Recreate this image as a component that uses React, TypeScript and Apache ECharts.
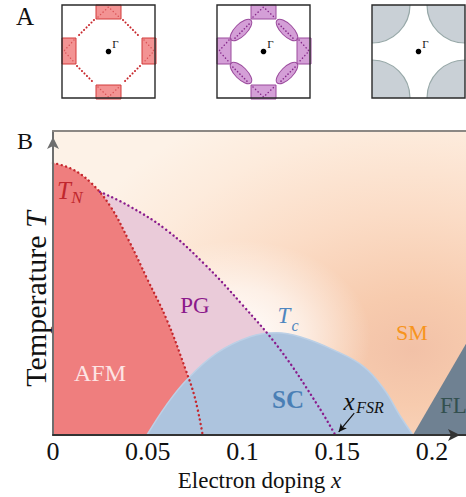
import React, { useEffect, useRef } from 'react';
import * as echarts from 'echarts';

// ---- data ----
const xTickLabels = [0, 0.05, 0.1, 0.15, 0.2];
const xMax = 0.218;

// Néel temperature T_N (AFM boundary)
const tnX = [0, 0.01, 0.02, 0.03, 0.04, 0.05, 0.06, 0.07, 0.075, 0.079];
const tnT = [0.895, 0.875, 0.83, 0.755, 0.64, 0.51, 0.38, 0.215, 0.12, 0];

// pseudogap line ending at x_FSR
const pgX = [0.0248, 0.04, 0.06, 0.08, 0.1, 0.12, 0.14, 0.149];
const pgT = [0.8, 0.754, 0.674, 0.562, 0.428, 0.28, 0.095, 0];

// superconducting dome T_c
const scX = [0.0496, 0.06, 0.0705, 0.0864, 0.104, 0.118, 0.1303, 0.148, 0.164, 0.175, 0.183, 0.19];
const scT = [0, 0.1, 0.181, 0.269, 0.323, 0.336, 0.323, 0.28, 0.225, 0.148, 0.065, 0];

// Fermi-liquid boundary
const flX = [0.19, 0.218];
const flT = [0, 0.3];

// strange-metal background extent
const bgX = [0, 0.218];
const bgT = [1, 1];

// x_FSR arrow (from label to point)
const fsrArrowX = [0.159, 0.1508];
const fsrArrowT = [0.072, 0.01];

const pts = (xs: number[], ys: number[]) => xs.map((x, i) => [x, ys[i]]);
const SERIF = '"Liberation Serif", "Times New Roman", serif';

function txt(x: number, y: number, text: string, size: number, fill: string, extra: any = {}) {
  return {
    type: 'text',
    x,
    y,
    z: 100,
    style: {
      text,
      fill,
      fontSize: size,
      fontFamily: SERIF,
      align: 'center',
      verticalAlign: 'middle',
      ...extra,
    },
  };
}

function dotted(points: number[][], color: string, w = 2) {
  return {
    type: 'polyline',
    z: 60,
    shape: { points },
    style: { stroke: color, lineWidth: w, lineDash: [0.1, 3.4], lineCap: 'round', fill: null },
  };
}

function rectPatch(x: number, y: number, w: number, h: number, fill: string, stroke: string) {
  return { type: 'rect', z: 55, shape: { x, y, width: w, height: h }, style: { fill, stroke, lineWidth: 1 } };
}

function squareFrame(ox: number) {
  return { type: 'rect', z: 50, shape: { x: ox, y: 5, width: 93, height: 93 }, style: { fill: '#fff', stroke: 'none' } };
}
function squareBorder(ox: number) {
  return { type: 'rect', z: 70, shape: { x: ox, y: 5, width: 93, height: 93 }, style: { fill: null, stroke: '#2a2a2a', lineWidth: 1.4 } };
}
function gamma(ox: number) {
  const cx = ox + 46.5;
  return [
    { type: 'circle', z: 80, shape: { cx, cy: 51.5, r: 2.8 }, style: { fill: '#000' } },
    txt(cx + 7, 43.5, 'Γ', 11, '#111'),
  ];
}

function buildInsets() {
  const els: any[] = [];
  // ---- inset 1 (AFM) ----
  const o1 = 62;
  const red = 'rgba(238,105,105,0.72)';
  const redS = '#d23a3a';
  const redDot = '#c8282d';
  els.push(squareFrame(o1));
  els.push(rectPatch(o1 + 34, 5, 25, 14, red, redS));
  els.push(rectPatch(o1 + 34, 85, 25, 14, red, redS));
  els.push(rectPatch(o1, 38, 14, 26, red, redS));
  els.push(rectPatch(o1 + 80, 38, 14, 26, red, redS));
  els.push(dotted([[o1 + 32, 20], [o1 + 15, 37]], redDot));
  els.push(dotted([[o1 + 61, 20], [o1 + 78, 37]], redDot));
  els.push(dotted([[o1 + 15, 66], [o1 + 32, 83]], redDot));
  els.push(dotted([[o1 + 78, 66], [o1 + 61, 83]], redDot));
  els.push(dotted([[o1 + 36, 17], [o1 + 46.5, 7], [o1 + 57, 17]], 'rgba(200,40,45,0.6)', 1.4));
  els.push(dotted([[o1 + 36, 87], [o1 + 46.5, 97], [o1 + 57, 87]], 'rgba(200,40,45,0.6)', 1.4));
  els.push(dotted([[o1 + 12, 40], [o1 + 2, 51], [o1 + 12, 62]], 'rgba(200,40,45,0.6)', 1.4));
  els.push(dotted([[o1 + 82, 40], [o1 + 92, 51], [o1 + 82, 62]], 'rgba(200,40,45,0.6)', 1.4));
  els.push(squareBorder(o1));
  els.push(...gamma(o1));

  // ---- inset 2 (PG) ----
  const o2 = 217;
  const pur = 'rgba(186,100,190,0.62)';
  const purS = '#9a4a9c';
  const purDot = 'rgba(120,20,125,0.85)';
  els.push(squareFrame(o2));
  els.push(rectPatch(o2 + 34, 5, 25, 14, pur, purS));
  els.push(rectPatch(o2 + 34, 85, 25, 14, pur, purS));
  els.push(rectPatch(o2, 38, 14, 26, pur, purS));
  els.push(rectPatch(o2 + 80, 38, 14, 26, pur, purS));
  const ell = [
    [o2 + 24, 30, Math.PI / 4],
    [o2 + 70, 30, -Math.PI / 4],
    [o2 + 24, 73, -Math.PI / 4],
    [o2 + 70, 73, Math.PI / 4],
  ];
  ell.forEach(([x, y, rot]) => {
    els.push({
      type: 'group',
      x,
      y,
      rotation: rot,
      z: 56,
      children: [
        { type: 'ellipse', z: 56, shape: { cx: 0, cy: 0, rx: 14, ry: 6 }, style: { fill: pur, stroke: purS, lineWidth: 1 } },
        { type: 'polyline', z: 60, shape: { points: [[-10, 1.5], [10, 1.5]] }, style: { stroke: purDot, lineWidth: 1.6, lineDash: [0.1, 3.2], lineCap: 'round', fill: null } },
      ],
    });
  });
  els.push(dotted([[o2 + 36, 17], [o2 + 46.5, 7], [o2 + 57, 17]], purDot, 1.5));
  els.push(dotted([[o2 + 36, 87], [o2 + 46.5, 97], [o2 + 57, 87]], purDot, 1.5));
  els.push(dotted([[o2 + 12, 40], [o2 + 2, 51], [o2 + 12, 62]], purDot, 1.5));
  els.push(dotted([[o2 + 82, 40], [o2 + 92, 51], [o2 + 82, 62]], purDot, 1.5));
  els.push(squareBorder(o2));
  els.push(...gamma(o2));

  // ---- inset 3 (FL) ----
  const o3 = 372;
  const gFill = '#c9d0d6';
  const gStroke = '#97a8a8';
  els.push(squareFrame(o3));
  const corners = [
    [o3, 5, 0, Math.PI / 2],
    [o3 + 93, 5, Math.PI / 2, Math.PI],
    [o3 + 93, 98, Math.PI, (3 * Math.PI) / 2],
    [o3, 98, (3 * Math.PI) / 2, 2 * Math.PI],
  ];
  corners.forEach(([cx, cy, s, e]) => {
    els.push({ type: 'sector', z: 55, shape: { cx, cy, r: 38, r0: 0, startAngle: s, endAngle: e, clockwise: true }, style: { fill: gFill, stroke: 'none' } });
    els.push({ type: 'arc', z: 56, shape: { cx, cy, r: 38, startAngle: s, endAngle: e, clockwise: true }, style: { stroke: gStroke, lineWidth: 1.2, fill: null } });
  });
  els.push(squareBorder(o3));
  els.push(...gamma(o3));
  return els;
}

function buildLabels() {
  return [
    txt(25, 16, 'A', 25, '#111'),
    txt(25, 141, 'B', 24, '#111'),
    txt(64, 190, 'T', 25, '#c0272d', { fontStyle: 'italic' }),
    txt(77, 197, 'N', 17, '#c0272d', { fontStyle: 'italic' }),
    txt(100, 373, 'AFM', 24, '#fde4e4'),
    txt(195, 305, 'PG', 23, '#8b1a8b'),
    txt(284, 315, 'T', 23, '#4f86bf', { fontStyle: 'italic' }),
    txt(295, 325, 'c', 16, '#4f86bf', { fontStyle: 'italic' }),
    txt(288, 399, 'SC', 25, '#4a7fb5', { fontWeight: 'bold' }),
    txt(349, 401, 'x', 25, '#111', { fontStyle: 'italic' }),
    txt(370, 407, 'FSR', 16, '#111', { fontStyle: 'italic' }),
    txt(412, 332, 'SM', 22, '#f7941d'),
    txt(440, 405, 'FL', 23, '#33504f', { align: 'left' }),
  ];
}

export default function App() {
  const ref = useRef<HTMLDivElement>(null);
  useEffect(() => {
    const chart = echarts.init(ref.current!, null, { renderer: 'svg' });
    const areaOnly = { showSymbol: false, symbol: 'none', silent: true, lineStyle: { width: 0 } };
    const option: any = {
      animation: false,
      backgroundColor: '#ffffff',
      grid: { left: 53, top: 131, width: 413, height: 304, containLabel: false },
      xAxis: [
        {
          type: 'value',
          min: 0,
          max: xMax,
          interval: 0.05,
          position: 'bottom',
          z: 10,
          axisLine: {
            show: true,
            onZero: false,
            lineStyle: { color: '#333', width: 2 },
            symbol: ['none', 'arrow'],
            symbolSize: [9, 12],
            symbolOffset: [0, -6],
          },
          axisTick: { show: false },
          splitLine: { show: false },
          axisLabel: {
            fontSize: 26,
            fontFamily: SERIF,
            color: '#111',
            margin: 3,
            showMaxLabel: false,
            formatter: (v: number) => {
              const r = Number(v.toFixed(3));
              return xTickLabels.includes(r) ? String(r) : '';
            },
          },
          name: 'Electron doping {i|x}',
          nameLocation: 'middle',
          nameGap: 34,
          nameTextStyle: {
            fontSize: 23,
            fontFamily: SERIF,
            color: '#111',
            rich: { i: { fontSize: 23, fontFamily: SERIF, fontStyle: 'italic', color: '#111' } },
          },
        },
        {
          type: 'value',
          min: 0,
          max: xMax,
          position: 'top',
          z: 10,
          axisLine: { show: true, onZero: false, lineStyle: { color: '#8c8884', width: 2 } },
          axisTick: { show: false },
          axisLabel: { show: false },
          splitLine: { show: false },
        },
      ],
      yAxis: {
        type: 'value',
        min: 0,
        max: 1,
        z: 10,
        axisLine: {
          show: true,
          onZero: false,
          lineStyle: { color: '#6e6e6e', width: 2 },
          symbol: ['none', 'arrow'],
          symbolSize: [9, 12],
          symbolOffset: [0, -6],
        },
        axisTick: { show: false },
        axisLabel: { show: false },
        splitLine: { show: false },
        name: 'Temperature {i|T}',
        nameLocation: 'middle',
        nameGap: 3,
        nameTextStyle: {
          fontSize: 30,
          fontFamily: SERIF,
          color: '#111',
          padding: [0, 32, 0, 0],
          rich: { i: { fontSize: 30, fontFamily: SERIF, fontStyle: 'italic', color: '#111' } },
        },
      },
      series: [
        {
          type: 'line',
          name: 'SM background',
          data: pts(bgX, bgT),
          ...areaOnly,
          z: 1,
          areaStyle: {
            opacity: 1,
            color: new echarts.graphic.RadialGradient(0.87, 0.72, 0.9, [
              { offset: 0, color: '#f2c1a7' },
              { offset: 0.2, color: '#f7cbae' },
              { offset: 0.5, color: '#fbdcc6' },
              { offset: 0.8, color: '#fdebdc' },
              { offset: 1, color: '#fdf2e7' },
            ]),
          },
        },
        {
          type: 'line',
          name: 'glow',
          data: pts(bgX, bgT),
          ...areaOnly,
          z: 2,
          areaStyle: {
            opacity: 1,
            color: new echarts.graphic.RadialGradient(0.45, 0.68, 0.32, [
              { offset: 0, color: 'rgba(255,255,255,0.95)' },
              { offset: 0.5, color: 'rgba(255,255,255,0.6)' },
              { offset: 1, color: 'rgba(255,255,255,0)' },
            ]),
          },
        },
        {
          type: 'line',
          name: 'PG',
          data: pts(pgX, pgT),
          ...areaOnly,
          smooth: 0.4,
          z: 3,
          areaStyle: { color: '#eacbd9', opacity: 1 },
        },
        {
          type: 'line',
          name: 'AFM',
          data: pts(tnX, tnT),
          ...areaOnly,
          smooth: 0.4,
          z: 4,
          areaStyle: { color: '#ef7e7e', opacity: 1 },
        },
        {
          type: 'line',
          name: 'SC',
          data: pts(scX, scT),
          showSymbol: false,
          symbol: 'none',
          silent: true,
          smooth: 0.4,
          z: 5,
          lineStyle: { color: '#bcd0e6', width: 1.5 },
          areaStyle: { color: '#adc4de', opacity: 1 },
        },
        {
          type: 'line',
          name: 'FL',
          data: pts(flX, flT),
          ...areaOnly,
          z: 6,
          areaStyle: { color: '#6f8192', opacity: 1 },
        },
        {
          type: 'line',
          name: 'T_N',
          data: pts(tnX, tnT),
          showSymbol: false,
          symbol: 'none',
          silent: true,
          smooth: 0.4,
          z: 7,
          lineStyle: { color: '#c5282e', width: 2.4, type: [0.1, 4.4], cap: 'round' },
        },
        {
          type: 'line',
          name: 'PG line',
          data: pts(pgX, pgT),
          showSymbol: false,
          symbol: 'none',
          silent: true,
          smooth: 0.4,
          z: 7,
          lineStyle: { color: '#8a1c8c', width: 2.4, type: [0.1, 4.4], cap: 'round' },
          markLine: {
            silent: true,
            z: 30,
            symbol: ['none', 'arrow'],
            symbolSize: [6, 8],
            label: { show: false },
            lineStyle: { color: '#111', width: 1.2, type: 'solid' },
            data: [[{ coord: [fsrArrowX[0], fsrArrowT[0]] }, { coord: [fsrArrowX[1], fsrArrowT[1]] }]],
          },
        },
      ],
      graphic: [...buildInsets(), ...buildLabels()],
    };
    chart.setOption(option);
    return () => chart.dispose();
  }, []);
  return <div ref={ref} style={{ position: 'absolute', left: 0, top: 0, width: 466, height: 497 }} />;
}
